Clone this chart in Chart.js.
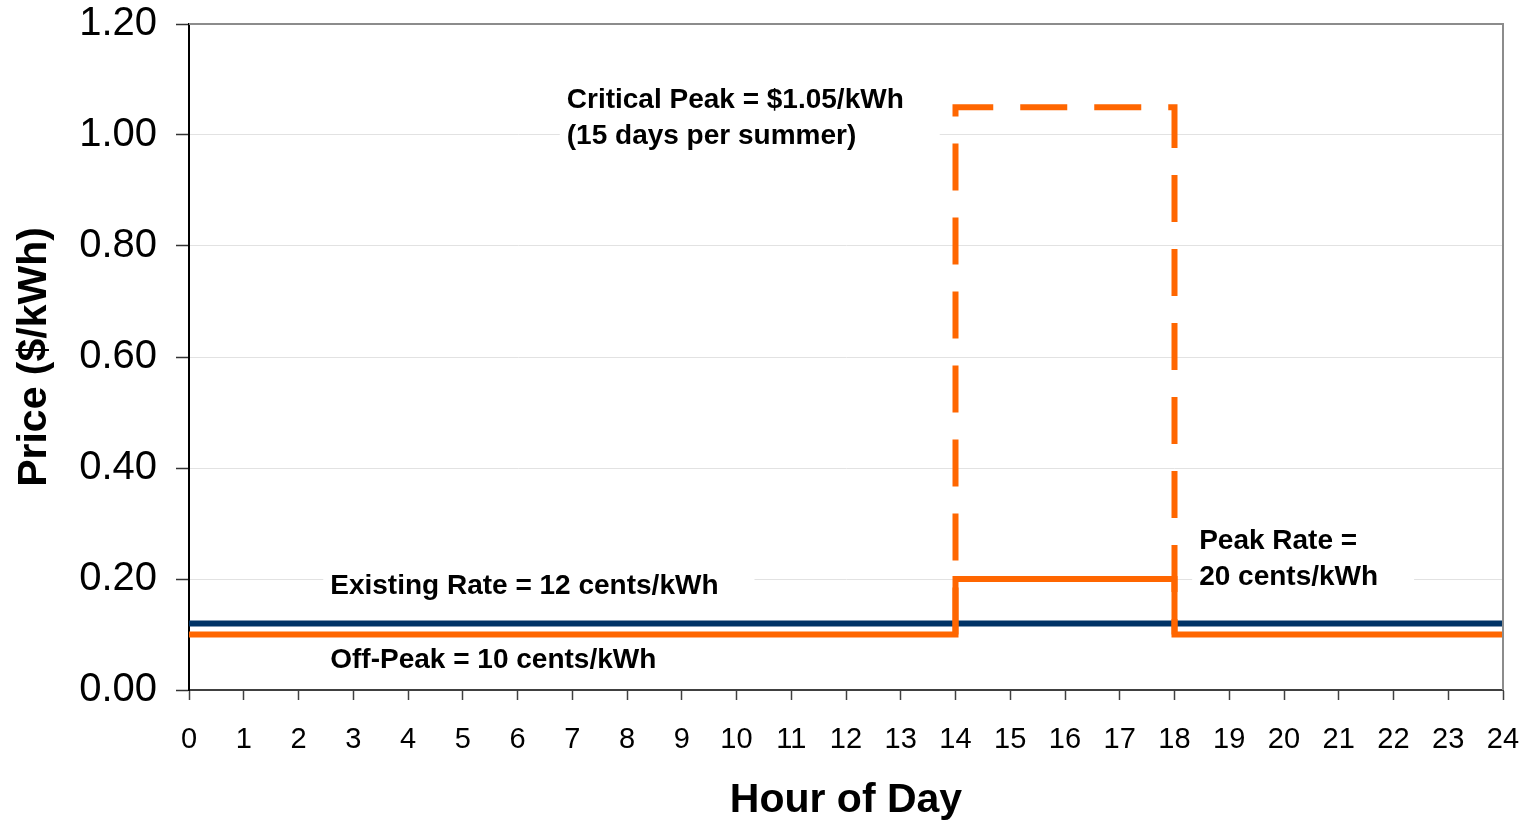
<!DOCTYPE html>
<html>
<head>
<meta charset="utf-8">
<script src="https://cdn.jsdelivr.net/npm/chart.js@4.4.1/dist/chart.umd.min.js"></script>
<style>
  html, body { margin: 0; padding: 0; background: #fff; }
  #wrap { width: 1533px; height: 821px; }
</style>
</head>
<body>
<div id="wrap"><canvas id="priceChart" width="1533" height="821"></canvas></div>
<script>
// Price data in $/kWh against hour of day
var existingHours = [0, 24];
var existingRate = [0.12, 0.12];

// Time-of-use rate: off-peak 10 cents, peak 20 cents from 14 to 18
var touHours = [0, 14, 14, 18, 18, 24];
var touRate = [0.10, 0.10, 0.20, 0.20, 0.10, 0.10];

// Critical peak event: $1.05/kWh from 14 to 18
var criticalHours = [14, 14, 18, 18];
var criticalRate = [0.10, 1.05, 1.05, 0.10];

// Axis tick values
var priceTicks = [0, 0.2, 0.4, 0.6, 0.8, 1.0, 1.2];
var hourTicks = [];
for (var h = 0; h <= 24; h++) hourTicks.push(h);

// Text labels inside the plot (anchored in data units)
var notes = [
    { hour: 2.58, price: 0.186, lines: ['Existing Rate = 12 cents/kWh'] },
    { hour: 2.58, price: 0.054, lines: ['Off-Peak = 10 cents/kWh'] },
    { hour: 6.90, price: 1.063, lines: ['Critical Peak = $1.05/kWh', '(15 days per summer)'] },
    { hour: 18.45, price: 0.2685, lines: ['Peak Rate =', '20 cents/kWh'] }
];

var FONT = "'Liberation Sans', Arial, Helvetica, sans-serif";

function toPoints(xs, ys) {
    return xs.map(function (x, i) { return { x: x, y: ys[i] }; });
}

// Draws white boxes behind the notes and then the note text
var notePlugin = {
    id: 'notes',
    beforeDatasetsDraw: function (chart) {
        var ctx = chart.ctx;
        ctx.save();
        ctx.font = 'bold 28px ' + FONT;
        ctx.fillStyle = '#ffffff';
        notes.forEach(function (n) {
            var x = chart.scales.x.getPixelForValue(n.hour);
            var y = chart.scales.y.getPixelForValue(n.price);
            var w = 0;
            n.lines.forEach(function (t) { w = Math.max(w, ctx.measureText(t).width); });
            ctx.fillRect(x - 7, y - 18, w + 43, n.lines.length * 36);
        });
        ctx.restore();
    },
    afterDatasetsDraw: function (chart) {
        var ctx = chart.ctx;
        ctx.save();
        ctx.font = 'bold 28px ' + FONT;
        ctx.fillStyle = '#000000';
        ctx.textAlign = 'left';
        ctx.textBaseline = 'middle';
        notes.forEach(function (n) {
            var x = chart.scales.x.getPixelForValue(n.hour);
            var y = chart.scales.y.getPixelForValue(n.price);
            n.lines.forEach(function (t, i) { ctx.fillText(t, x, y + i * 36); });
        });
        ctx.restore();
    }
};

// Gray frame on the top and right of the plot area
var framePlugin = {
    id: 'frame',
    afterDatasetsDraw: function (chart) {
        var a = chart.chartArea;
        var ctx = chart.ctx;
        ctx.save();
        ctx.strokeStyle = '#8c8c8c';
        ctx.lineWidth = 2;
        ctx.beginPath();
        ctx.moveTo(a.left, a.top);
        ctx.lineTo(a.right, a.top);
        ctx.lineTo(a.right, a.bottom);
        ctx.stroke();
        ctx.restore();
    }
};

var ctx = document.getElementById('priceChart').getContext('2d');

var priceChart = new Chart(ctx, {
    type: 'line',
    data: {
        datasets: [
            {
                label: 'Off-Peak / Peak',
                data: toPoints(touHours, touRate),
                borderColor: '#ff6600',
                borderWidth: 6,
                borderJoinStyle: 'miter',
                order: 1
            },
            {
                label: 'Critical Peak',
                data: toPoints(criticalHours, criticalRate),
                borderColor: '#ff6600',
                borderWidth: 6,
                borderDash: [47, 27],
                borderCapStyle: 'butt',
                order: 2
            },
            {
                label: 'Existing Rate',
                data: toPoints(existingHours, existingRate),
                borderColor: '#003366',
                borderWidth: 6,
                order: 3
            }
        ]
    },
    options: {
        responsive: false,
        animation: false,
        devicePixelRatio: 1,
        layout: { padding: { left: 10, right: 30, top: 24, bottom: 0 } },
        elements: {
            point: { radius: 0, hoverRadius: 0 },
            line: { tension: 0, fill: false }
        },
        plugins: {
            legend: { display: false },
            tooltip: { enabled: false }
        },
        scales: {
            x: {
                type: 'linear',
                min: 0,
                max: 24,
                afterBuildTicks: function (scale) {
                    scale.ticks = hourTicks.map(function (v) { return { value: v }; });
                },
                ticks: {
                    autoSkip: false,
                    maxRotation: 0,
                    padding: 23,
                    color: '#000',
                    font: { family: FONT, size: 29 }
                },
                grid: {
                    drawOnChartArea: false,
                    tickLength: 10,
                    tickColor: '#404040',
                    tickWidth: 1.5
                },
                border: { color: '#404040', width: 2 },
                title: {
                    display: true,
                    text: 'Hour of Day',
                    color: '#000',
                    font: { family: FONT, size: 41, weight: 'bold', lineHeight: 1 },
                    padding: { top: 0, bottom: 0 }
                },
                afterFit: function (scale) {
                    scale.height = 131;
                    scale.paddingLeft = 0;
                    scale.paddingRight = 0;
                }
            },
            y: {
                min: 0,
                max: 1.2,
                afterBuildTicks: function (scale) {
                    scale.ticks = priceTicks.map(function (v) { return { value: v }; });
                },
                ticks: {
                    padding: 19,
                    color: '#000',
                    font: { family: FONT, size: 40 },
                    callback: function (v) { return Number(v).toFixed(2); }
                },
                grid: {
                    color: '#e2e2e2',
                    lineWidth: 1,
                    tickLength: 13,
                    tickColor: '#333333',
                    tickWidth: 1.5
                },
                border: { color: '#000', width: 2 },
                title: {
                    display: true,
                    text: 'Price ($/kWh)',
                    color: '#000',
                    font: { family: FONT, size: 41, weight: 'bold', lineHeight: 1 },
                    padding: { top: 4, bottom: 0 }
                },
                afterFit: function (scale) {
                    scale.width = 179;
                    scale.paddingTop = 0;
                    scale.paddingBottom = 0;
                }
            }
        }
    },
    plugins: [notePlugin, framePlugin]
});
</script>
</body>
</html>
